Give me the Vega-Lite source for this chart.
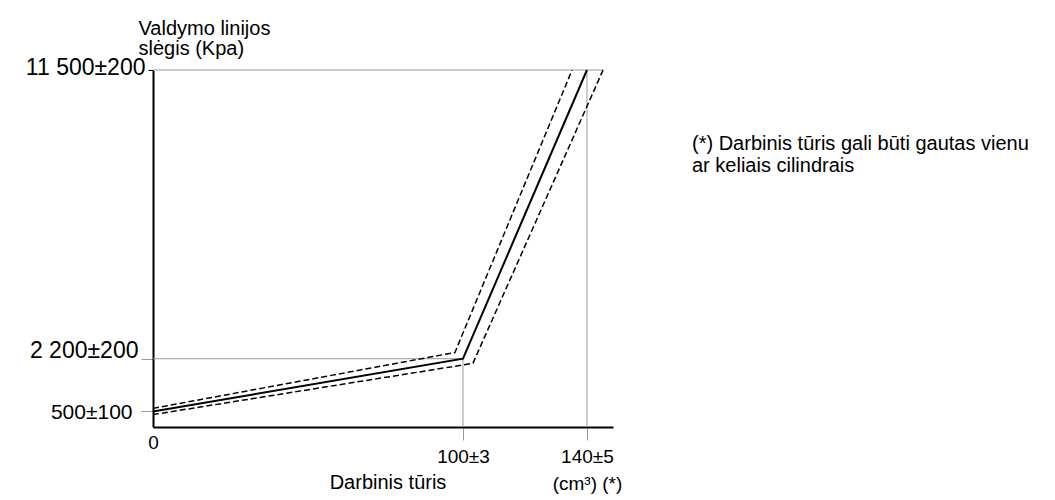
{
  "$schema": "https://vega.github.io/schema/vega-lite/v6.json",
  "width": 460,
  "height": 357,
  "autosize": "none",
  "padding": {"left": 153, "top": 70, "right": 442, "bottom": 73},
  "background": "white",
  "config": {
    "view": {"stroke": null},
    "font": "Liberation Sans",
    "axis": {"labelFont": "Liberation Sans", "titleFont": "Liberation Sans", "labelColor": "black", "titleColor": "black", "grid": false, "labelFlush": false, "labelOverlap": false}
  },
  "title": {
    "text": ["(*) Darbinis tūris gali būti gautas vienu", "ar keliais cilindrais"],
    "orient": "top",
    "anchor": "start",
    "frame": "group",
    "align": "left",
    "baseline": "alphabetic",
    "offset": 0,
    "dx": 539,
    "dy": 173,
    "fontSize": 20,
    "fontWeight": "normal",
    "font": "Liberation Sans",
    "lineHeight": 22,
    "color": "black"
  },
  "encoding": {
    "x": {
      "field": "x",
      "type": "quantitative",
      "scale": {"domain": [0, 148.4], "nice": false, "zero": true},
      "axis": {
        "values": [0, 100, 140],
        "labelExpr": "datum.value == 0 ? '0' : datum.value == 100 ? '100±3' : ['140±5', '(cm³) (*)']",
        "labelFontSize": 19,
        "labelLineHeight": 27,
        "labelBaseline": "top",
        "labelAlign": "center",
        "tickSize": 13,
        "tickColor": {"condition": {"test": "datum.value == 0", "value": "transparent"}, "value": "#999999"},
        "tickWidth": 1,
        "labelPadding": {"condition": {"test": "datum.value == 0", "value": -6.5}, "value": 7.5},
        "domainColor": "black",
        "domainWidth": 2,
        "title": "Darbinis tūris",
        "titleFontSize": 20,
        "titleFontWeight": "normal",
        "titleAlign": "center",
        "titleBaseline": "alphabetic",
        "titleX": 234.5,
        "titleY": 61
      }
    },
    "y": {
      "field": "y",
      "type": "quantitative",
      "scale": {"domain": [0, 11500], "nice": false, "zero": true},
      "axis": {
        "values": [500, 2200, 11500],
        "labelExpr": "datum.value == 11500 ? '11 500±200' : datum.value == 2200 ? '2 200±200' : '500±100'",
        "labelFontSize": {"condition": {"test": "datum.value == 500", "value": 21}, "value": 23},
        "labelBaseline": "middle",
        "labelOffset": {"condition": [{"test": "datum.value == 2200", "value": -8}, {"test": "datum.value == 11500", "value": -2.5}], "value": 1},
        "tickSize": {"condition": {"test": "datum.value == 11500", "value": 5}, "value": 12},
        "tickColor": {"condition": {"test": "datum.value == 11500", "value": "black"}, "value": "#999999"},
        "tickWidth": 1,
        "labelPadding": {"condition": {"test": "datum.value == 500", "value": 9}, "value": 3},
        "domainColor": "black",
        "domainWidth": 2,
        "title": ["Valdymo linijos", "slėgis (Kpa)"],
        "titleAngle": 0,
        "titleAlign": "left",
        "titleBaseline": "alphabetic",
        "titleFontSize": 20,
        "titleFontWeight": "normal",
        "titleLineHeight": 20,
        "titleX": -15,
        "titleY": -35.5
      }
    }
  },
  "layer": [
    {
      "data": {"values": [
        {"x": 0, "x2": 100, "y": 2200},
        {"x": 0, "x2": 145.2, "y": 11500}
      ]},
      "mark": {"type": "rule", "color": "#999999", "strokeWidth": 1},
      "encoding": {"x2": {"field": "x2"}}
    },
    {
      "data": {"values": [
        {"x": 100, "y": 0, "y2": 2200},
        {"x": 140, "y": 0, "y2": 11500}
      ]},
      "mark": {"type": "rule", "color": "#999999", "strokeWidth": 1},
      "encoding": {"y2": {"field": "y2"}}
    },
    {
      "data": {"values": [
        {"series": "upper", "x": 0, "y": 600},
        {"series": "upper", "x": 97.4, "y": 2400},
        {"series": "upper", "x": 135.2, "y": 11500},
        {"series": "lower", "x": 0, "y": 400},
        {"series": "lower", "x": 103.2, "y": 2050},
        {"series": "lower", "x": 145.2, "y": 11500}
      ]},
      "mark": {"type": "line", "color": "black", "strokeWidth": 1.5, "strokeDash": [6, 3]},
      "encoding": {"detail": {"field": "series", "type": "nominal"}}
    },
    {
      "data": {"values": [
        {"series": "nominal", "x": 0, "y": 500},
        {"series": "nominal", "x": 100, "y": 2200},
        {"series": "nominal", "x": 140, "y": 11500}
      ]},
      "mark": {"type": "line", "color": "black", "strokeWidth": 2},
      "encoding": {}
    }
  ]
}
